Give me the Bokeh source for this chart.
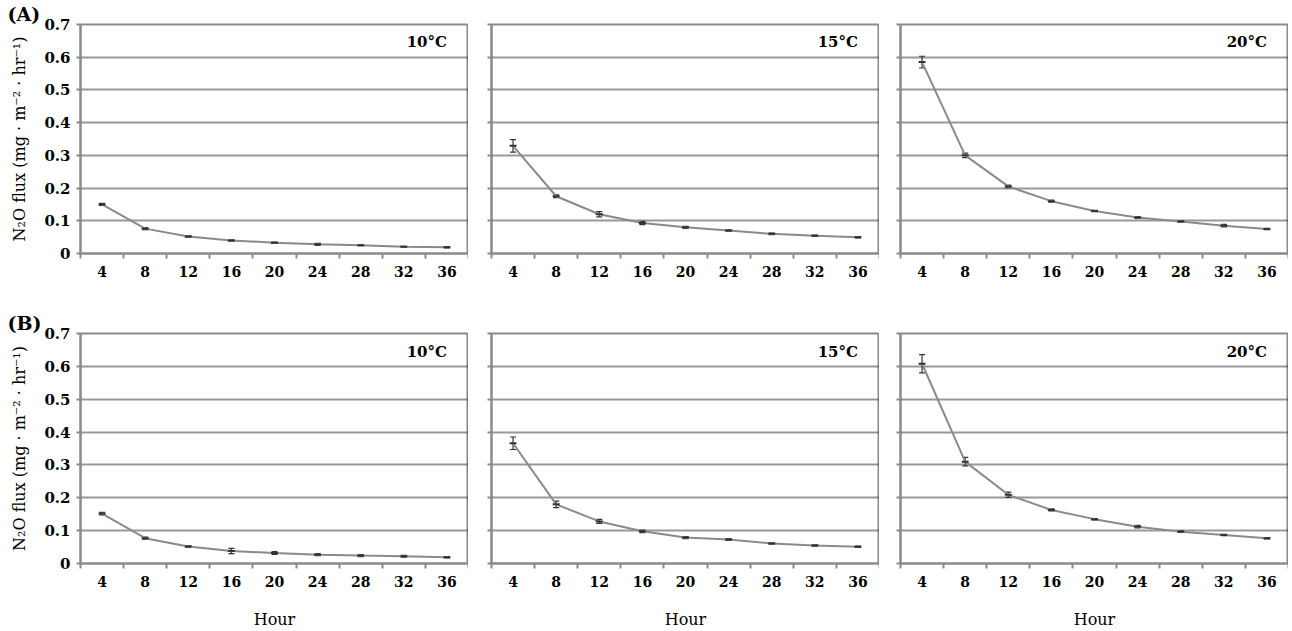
from bokeh.plotting import figure
from bokeh.layouts import column, row
from bokeh.models import FixedTicker, Label, Whisker, ColumnDataSource, TeeHead, Range1d
from bokeh.embed import file_html
from bokeh.resources import INLINE

# ---------------- data ----------------
hours = [4, 8, 12, 16, 20, 24, 28, 32, 36]
hour_edges = [2, 6, 10, 14, 18, 22, 26, 30, 34, 38]
hour_labels = ["4", "8", "12", "16", "20", "24", "28", "32", "36"]
y_ticks = [0, 0.1, 0.2, 0.3, 0.4, 0.5, 0.6, 0.7]
y_tick_labels = ["0", "0.1", "0.2", "0.3", "0.4", "0.5", "0.6", "0.7"]
temps = ["10°C", "15°C", "20°C"]
panel_tags = ["(A)", "(B)"]

a_10 = [0.150, 0.076, 0.052, 0.040, 0.033, 0.028, 0.025, 0.021, 0.019]
a_15 = [0.329, 0.175, 0.120, 0.093, 0.080, 0.070, 0.060, 0.054, 0.050]
a_20 = [0.585, 0.300, 0.205, 0.160, 0.130, 0.110, 0.098, 0.085, 0.075]
b_10 = [0.152, 0.077, 0.052, 0.038, 0.032, 0.027, 0.024, 0.022, 0.019]
b_15 = [0.366, 0.180, 0.128, 0.098, 0.079, 0.073, 0.061, 0.055, 0.051]
b_20 = [0.608, 0.310, 0.209, 0.163, 0.135, 0.112, 0.097, 0.087, 0.077]

a_10_err = [0.003, 0.003, 0.002, 0.002, 0.002, 0.003, 0.001, 0.001, 0.002]
a_15_err = [0.019, 0.004, 0.008, 0.005, 0.003, 0.002, 0.002, 0.002, 0.002]
a_20_err = [0.018, 0.007, 0.004, 0.003, 0.002, 0.003, 0.002, 0.004, 0.002]
b_10_err = [0.004, 0.003, 0.002, 0.008, 0.004, 0.003, 0.003, 0.003, 0.002]
b_15_err = [0.019, 0.010, 0.006, 0.004, 0.003, 0.003, 0.002, 0.002, 0.002]
b_20_err = [0.028, 0.013, 0.008, 0.003, 0.002, 0.004, 0.002, 0.002, 0.002]

series = [[(a_10, a_10_err), (a_15, a_15_err), (a_20, a_20_err)],
          [(b_10, b_10_err), (b_15, b_15_err), (b_20, b_20_err)]]

FONT = "DejaVu Serif"
FRAME_C = "#8a8a8a"
LINE_C = "#8a8a8a"
MARK_C = "#333333"

def make_panel(r, c, vals, errs):
    left = [80, 23, 21][c]
    top = [24, 30][r]
    bottom = [50, 68][r]
    fh = [229, 230][r]
    kw = {}
    if c == 0:
        kw["title"] = panel_tags[r]
    p = figure(frame_width=388, frame_height=fh, output_backend="svg",
               toolbar_location=None, min_border_left=left, min_border_right=0,
               min_border_top=top, min_border_bottom=bottom,
               x_range=Range1d(2, 38), y_range=Range1d(0, 0.7), **kw)
    p.background_fill_color = "white"
    p.border_fill_color = "white"
    p.outline_line_color = FRAME_C
    p.outline_line_width = 2

    if c == 0:
        p.title.text_font = FONT
        p.title.text_font_style = "bold"
        p.title.text_font_size = "19px"
        p.title.text_color = "black"
        p.title.align = "left"
        p.title.offset = -73
        p.title.standoff = 0
        p.title.vertical_align = "bottom"

    # axes
    xa = p.xaxis[0]
    xa.ticker = FixedTicker(ticks=hours, minor_ticks=hour_edges)
    xa.major_label_overrides = dict(zip(hours, hour_labels))
    xa.major_tick_out = 0
    xa.major_tick_in = 0
    xa.minor_tick_out = 5
    xa.minor_tick_in = 0
    xa.minor_tick_line_color = FRAME_C
    xa.minor_tick_line_width = 2
    xa.axis_line_color = FRAME_C
    xa.axis_line_width = 2
    xa.major_label_text_font = FONT
    xa.major_label_text_font_style = "bold"
    xa.major_label_text_font_size = "14px"
    xa.major_label_text_color = "black"
    xa.major_label_standoff = 7
    if r == 1:
        xa.axis_label = "Hour"
        xa.axis_label_text_font = FONT
        xa.axis_label_text_font_style = "normal"
        xa.axis_label_text_font_size = "16px"
        xa.axis_label_text_color = "black"
        xa.axis_label_standoff = 20

    ya = p.yaxis[0]
    ya.axis_line_color = FRAME_C
    ya.axis_line_width = 2
    if c == 0:
        ya.ticker = FixedTicker(ticks=y_ticks)
        ya.major_label_overrides = dict(zip(y_ticks, y_tick_labels))
        ya.major_tick_out = 4
        ya.major_tick_in = 0
        ya.minor_tick_out = 0
        ya.minor_tick_in = 0
        ya.major_tick_line_color = FRAME_C
        ya.major_tick_line_width = 2
        ya.major_label_text_font = FONT
        ya.major_label_text_font_style = "bold"
        ya.major_label_text_font_size = "15px"
        ya.major_label_text_color = "black"
        ya.major_label_standoff = 6
        ya.axis_label = "N₂O flux (mg · m⁻² · hr⁻¹)"
        ya.axis_label_text_font = FONT
        ya.axis_label_text_font_style = "normal"
        ya.axis_label_text_font_size = "16px"
        ya.axis_label_text_color = "black"
        ya.axis_label_standoff = 12
    else:
        # tick marks only (as minor ticks), no labels
        ya.ticker = FixedTicker(ticks=[], minor_ticks=y_ticks)
        ya.major_tick_out = 0
        ya.major_tick_in = 0
        ya.minor_tick_out = 4
        ya.minor_tick_in = 0
        ya.minor_tick_line_color = FRAME_C
        ya.minor_tick_line_width = 2
        ya.major_label_standoff = 0

    p.xgrid.visible = False
    p.ygrid.ticker = FixedTicker(ticks=y_ticks[1:-1])
    p.ygrid.grid_line_color = "#333333"
    p.ygrid.grid_line_dash = "1 1"
    p.ygrid.grid_line_width = 2

    lower = [v - e for v, e in zip(vals, errs)]
    upper = [v + e for v, e in zip(vals, errs)]
    src = ColumnDataSource(dict(x=hours, y=vals, lo=lower, hi=upper))
    p.line("x", "y", source=src, line_color=LINE_C, line_width=2)
    w = Whisker(source=src, base="x", lower="lo", upper="hi", dimension="height",
                line_color=MARK_C, line_width=1.2,
                upper_head=TeeHead(size=6, line_color=MARK_C, line_width=1.2),
                lower_head=TeeHead(size=6, line_color=MARK_C, line_width=1.2))
    p.add_layout(w)
    p.scatter("x", "y", source=src, marker="dash", size=7, line_color=MARK_C,
              line_width=2)

    p.add_layout(Label(x=36, y=0.645, text=temps[c], text_align="right",
                       text_baseline="middle", text_font=FONT,
                       text_font_style="bold", text_font_size="15px",
                       text_color="black"))
    return p

rows = []
for r in range(2):
    rows.append(row(*[make_panel(r, c, *series[r][c]) for c in range(3)]))

layout = column(*rows)
open("out.html", "w").write(file_html(layout, INLINE))
